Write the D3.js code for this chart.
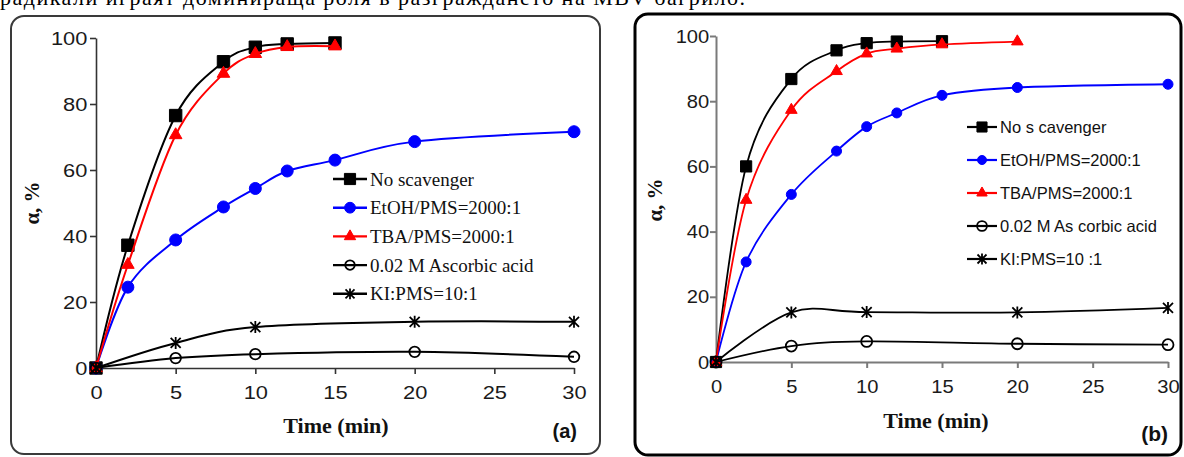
<!DOCTYPE html>
<html>
<head>
<meta charset="utf-8">
<script src="https://cdn.jsdelivr.net/npm/d3@7"></script>
<style>
    body { margin: 0; background: #fff; }
    svg { display: block; }
</style>
</head>
<body>
<script>
// time points (min)
const timeShort = [0, 2, 5, 8, 10, 12, 15];
const timeTBAb = [0, 2, 5, 8, 10, 12, 15, 20];
const timeLong = [0, 2, 5, 8, 10, 12, 15, 20, 30];
const timeSparse = [0, 5, 10, 20, 30];

const xTicks = [0, 5, 10, 15, 20, 25, 30];
const yTicks = [0, 20, 40, 60, 80, 100];

// panel (a), alpha %
const aNoScavenger = [0, 37.2, 76.5, 92.8, 97.2, 98.2, 98.5];
const aEtOH = [0, 24.5, 38.8, 48.8, 54.4, 59.7, 63.0, 68.6, 71.6];
const aTBA = [0, 31.3, 70.6, 89.2, 95.2, 97.3, 97.5];
const aAscorbic = [0, 3.0, 4.2, 4.9, 3.4];
const aKI = [0, 7.6, 12.4, 14.0, 14.0];

// panel (b), alpha %
const bNoScavenger = [0, 60.0, 86.8, 95.6, 97.8, 98.3, 98.4];
const bEtOH = [0, 30.7, 51.4, 64.7, 72.2, 76.4, 81.8, 84.2, 85.2];
const bTBA = [0, 49.7, 77.3, 89.2, 94.6, 96.1, 97.4, 98.3];
const bAscorbic = [0, 4.9, 6.3, 5.6, 5.3];
const bKI = [0, 15.2, 15.3, 15.2, 16.6];

const labelsA = ['No scavenger', 'EtOH/PMS=2000:1', 'TBA/PMS=2000:1', '0.02 M Ascorbic acid', 'KI:PMS=10:1'];
const labelsB = ['No s cavenger', 'EtOH/PMS=2000:1', 'TBA/PMS=2000:1', '0.02 M As corbic acid', 'KI:PMS=10 :1'];

const svg = d3.select('body').append('svg')
    .attr('width', 1184)
    .attr('height', 457);

// line of running text above the figure, cut by the top edge
svg.append('text')
    .attr('x', 0)
    .attr('y', 5)
    .attr('font-family', 'Liberation Serif, Times New Roman, serif')
    .attr('font-size', 22)
    .attr('textLength', 745)
    .attr('lengthAdjust', 'spacing')
    .text('радикали играят доминираща роля в разграждането на MBV багрило.');

// s: half-size of the marker in px
function markerPath(kind, s) {
    if (kind === 'star') {
        return `M${-s},${-s}L${s},${s}M${-s},${s}L${s},${-s}M0,${-s * 1.2}L0,${s * 1.2}`;
    }
    if (kind === 'square') return d3.symbol().type(d3.symbolSquare).size(4 * s * s)();
    if (kind === 'triangle') return d3.symbol().type(d3.symbolTriangle).size(Math.sqrt(3) * s * s)();
    return d3.symbol().type(d3.symbolCircle).size(Math.PI * s * s)();
}

function markerFill(s) {
    return s.marker === 'ring' || s.marker === 'star' ? 'none' : s.color;
}

function markerStroke(s) {
    return s.marker === 'ring' || s.marker === 'star' ? 1.8 : 1;
}

function drawPanel(p) {
    const g = svg.append('g');

    g.append('rect')
        .attr('x', p.frame[0])
        .attr('y', p.frame[1])
        .attr('width', p.frame[2])
        .attr('height', p.frame[3])
        .attr('rx', 13)
        .attr('fill', 'none')
        .attr('stroke', p.frameColor)
        .attr('stroke-width', p.frameWidth);

    const x = d3.scaleLinear().domain([0, 30]).range(p.xRange);
    const y = d3.scaleLinear().domain([0, 100]).range(p.yRange);

    const xAxis = g.append('g')
        .attr('transform', `translate(0,${p.yRange[0]})`)
        .call(d3.axisBottom(x).tickValues(xTicks).tickSize(6).tickSizeOuter(0));
    const yAxis = g.append('g')
        .attr('transform', `translate(${p.xRange[0]},0)`)
        .call(d3.axisLeft(y).tickValues(yTicks).tickSize(6).tickSizeOuter(0));

    [xAxis, yAxis].forEach(ax => {
        ax.select('.domain').attr('stroke', p.axisColor).attr('stroke-width', p.axisWidth);
        ax.selectAll('.tick line').attr('stroke', p.axisColor).attr('stroke-width', p.axisWidth);
        ax.selectAll('.tick text')
            .attr('fill', '#1a1a1a')
            .attr('font-family', 'Liberation Sans, Arial, sans-serif')
            .attr('font-size', p.tickFont)
            .attr('dominant-baseline', 'central')
            .attr('dy', null);
    });
    xAxis.selectAll('.tick text').attr('y', p.xLabelOffset)
        .attr('transform', `scale(${p.tickStretch},1)`);
    yAxis.selectAll('.tick text').attr('x', -p.yLabelOffset)
        .attr('transform', `scale(${p.tickStretch},1)`);

    // Excel-style smoothed lines
    const line = d3.line()
        .x(d => x(d[0]))
        .y(d => y(d[1]))
        .curve(d3.curveCardinal.tension(0));

    const plot = g.append('g');
    p.series.forEach(s => {
        const pts = s.t.map((t, i) => [t, s.v[i]]);
        plot.append('path')
            .attr('d', line(pts))
            .attr('fill', 'none')
            .attr('stroke', s.color)
            .attr('stroke-width', p.lineWidth);
        plot.selectAll(null)
            .data(pts)
            .enter()
            .append('path')
            .attr('transform', d => `translate(${x(d[0])},${y(d[1])})`)
            .attr('d', markerPath(s.marker, s.size))
            .attr('fill', markerFill(s))
            .attr('stroke', s.color)
            .attr('stroke-width', markerStroke(s));
    });

    // legend
    const leg = g.append('g');
    p.series.forEach((s, i) => {
        const ly = p.legend.y0 + i * p.legend.dy;
        leg.append('line')
            .attr('x1', p.legend.x0)
            .attr('x2', p.legend.x0 + p.legend.len)
            .attr('y1', ly)
            .attr('y2', ly)
            .attr('stroke', s.color)
            .attr('stroke-width', p.lineWidth + 0.4);
        leg.append('path')
            .attr('transform', `translate(${p.legend.x0 + p.legend.len / 2},${ly})`)
            .attr('d', markerPath(s.marker, s.size * 0.9))
            .attr('fill', markerFill(s))
            .attr('stroke', s.color)
            .attr('stroke-width', markerStroke(s));
        leg.append('text')
            .attr('x', p.legend.x0 + p.legend.len + 3)
            .attr('y', ly)
            .attr('dominant-baseline', 'central')
            .attr('font-family', p.legend.font)
            .attr('font-size', p.legend.size)
            .attr('fill', '#111')
            .text(p.labels[i]);
    });

    // axis titles
    g.append('text')
        .attr('x', p.xTitle[0])
        .attr('y', p.xTitle[1])
        .attr('text-anchor', 'middle')
        .attr('dominant-baseline', 'central')
        .attr('font-family', 'Liberation Serif, Times New Roman, serif')
        .attr('font-weight', 'bold')
        .attr('font-size', 22)
        .attr('fill', '#111')
        .text(p.xTitleText);

    g.append('text')
        .attr('transform', `translate(${p.yTitle[0]},${p.yTitle[1]}) rotate(-90)`)
        .attr('text-anchor', 'middle')
        .attr('dominant-baseline', 'central')
        .attr('font-family', 'Liberation Serif, Times New Roman, serif')
        .attr('font-weight', 'bold')
        .attr('font-size', 21)
        .attr('fill', '#111')
        .text('α, %');

    g.append('text')
        .attr('x', p.tag[0])
        .attr('y', p.tag[1])
        .attr('text-anchor', 'end')
        .attr('dominant-baseline', 'central')
        .attr('font-family', 'Liberation Sans, Arial, sans-serif')
        .attr('font-weight', 'bold')
        .attr('font-size', p.tag[2])
        .attr('fill', '#111')
        .text(p.tagText);
}

drawPanel({
    frame: [11, 16, 589, 438],
    frameColor: '#3a3a3a',
    frameWidth: 2,
    xRange: [96, 574],
    yRange: [368, 38],
    axisColor: '#333',
    axisWidth: 1.6,
    tickFont: 19,
    tickStretch: 1.15,
    xLabelOffset: 24,
    yLabelOffset: 7.5,
    lineWidth: 2,
    series: [
        { t: timeShort, v: aNoScavenger, color: '#000', marker: 'square', size: 6.2 },
        { t: timeLong, v: aEtOH, color: '#0000ff', marker: 'circle', size: 6 },
        { t: timeShort, v: aTBA, color: '#ff0000', marker: 'triangle', size: 6.3 },
        { t: timeSparse, v: aAscorbic, color: '#000', marker: 'ring', size: 5.3 },
        { t: timeSparse, v: aKI, color: '#000', marker: 'star', size: 5 }
    ],
    labels: labelsA,
    legend: { x0: 333, len: 34, y0: 179, dy: 28.7, font: 'Liberation Serif, Times New Roman, serif', size: 19 },
    xTitle: [336, 425],
    xTitleText: 'Time (min)',
    yTitle: [32, 203],
    tag: [577, 431, 20],
    tagText: '(a)'
});

drawPanel({
    frame: [635, 14, 546, 441],
    frameColor: '#000',
    frameWidth: 3,
    xRange: [716, 1168],
    yRange: [362, 36],
    axisColor: '#7a7a7a',
    axisWidth: 2,
    tickFont: 18,
    tickStretch: 1.12,
    xLabelOffset: 25,
    yLabelOffset: 6,
    lineWidth: 1.8,
    series: [
        { t: timeShort, v: bNoScavenger, color: '#000', marker: 'square', size: 5.6 },
        { t: timeLong, v: bEtOH, color: '#0000ff', marker: 'circle', size: 5 },
        { t: timeTBAb, v: bTBA, color: '#ff0000', marker: 'triangle', size: 5.8 },
        { t: timeSparse, v: bAscorbic, color: '#000', marker: 'ring', size: 5.5 },
        { t: timeSparse, v: bKI, color: '#000', marker: 'star', size: 5 }
    ],
    labels: labelsB,
    legend: { x0: 967, len: 30, y0: 127, dy: 33, font: 'Liberation Sans, Arial, sans-serif', size: 16.5 },
    xTitle: [936, 420],
    xTitleText: 'Time (min)',
    yTitle: [655, 200],
    tag: [1168, 433, 21],
    tagText: '(b)'
});
</script>
</body>
</html>
